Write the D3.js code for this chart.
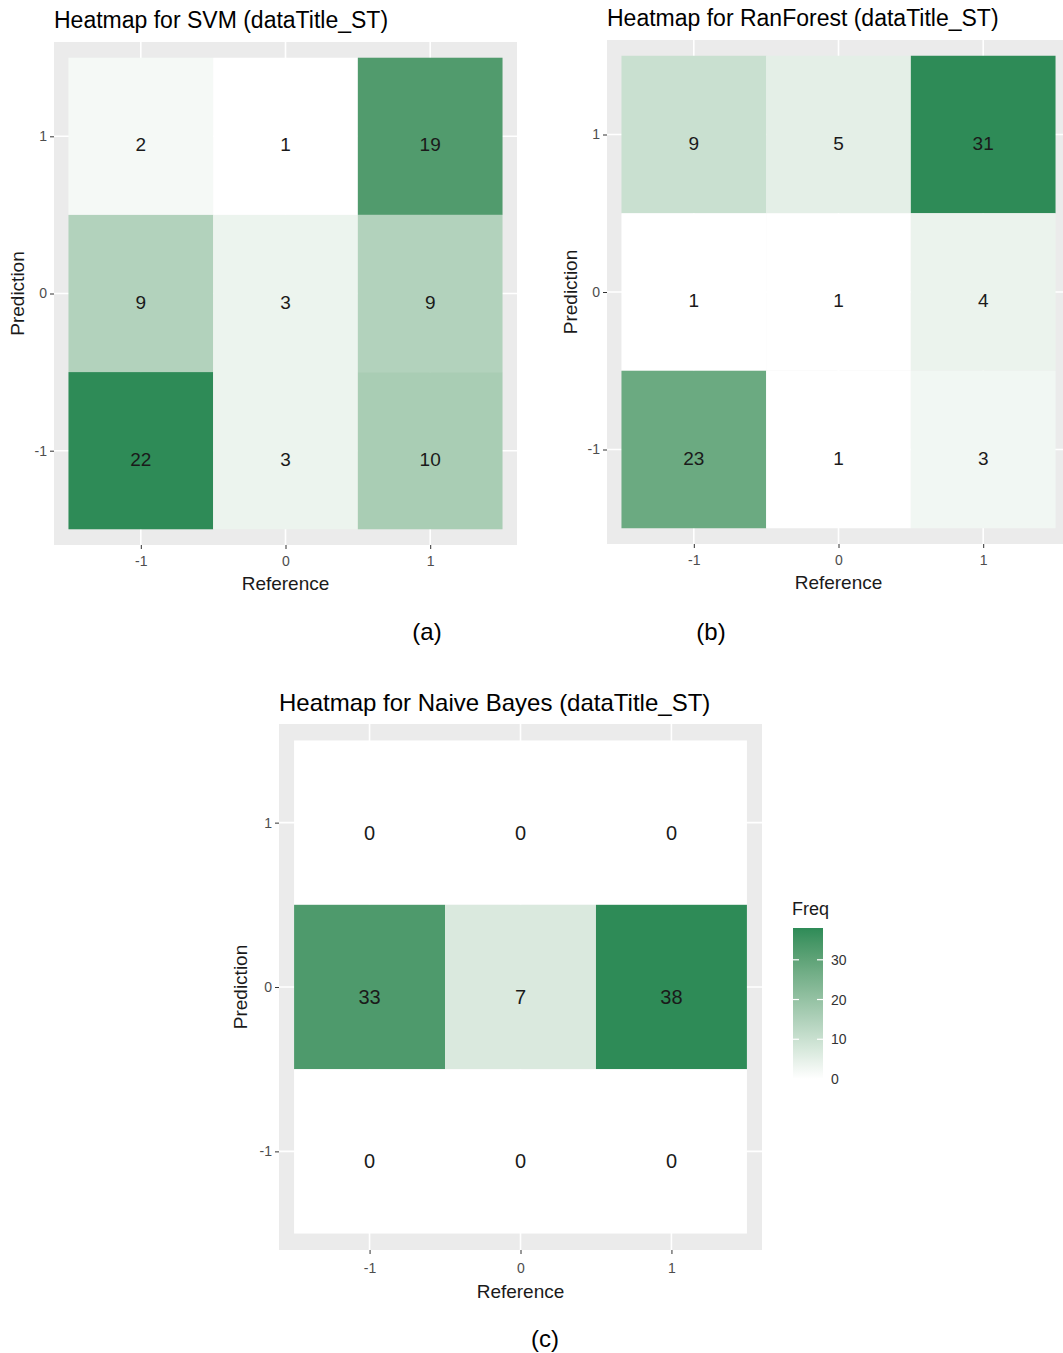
<!DOCTYPE html>
<html>
<head>
<meta charset="utf-8">
<script src="https://cdn.jsdelivr.net/npm/d3@7"></script>
<style>
  body { margin: 0; background: #fff; }
  svg { display: block; font-family: "Liberation Sans", Arial, sans-serif; }
</style>
</head>
<body>
<svg id="chart" width="1063" height="1353"></svg>
<script>
// Confusion-matrix counts: rows follow predictionLevels (1, 0, -1), columns follow referenceLevels.
const referenceLevels = [-1, 0, 1];
const predictionLevels = [1, 0, -1];
const svmFreq = [
  [2, 1, 19],
  [9, 3, 9],
  [22, 3, 10]
];
const ranForestFreq = [
  [9, 5, 31],
  [1, 1, 4],
  [23, 1, 3]
];
const naiveBayesFreq = [
  [0, 0, 0],
  [33, 7, 38],
  [0, 0, 0]
];
const panelTitles = [
  "Heatmap for SVM (dataTitle_ST)",
  "Heatmap for RanForest (dataTitle_ST)",
  "Heatmap for Naive Bayes (dataTitle_ST)"
];
const panelLetters = ["(a)", "(b)", "(c)"];
const legendTicks = [0, 10, 20, 30];

const LOW = "#ffffff", HIGH = "#2e8b57";
const svg = d3.select("#chart");

function flatten(freq) {
  const cells = [];
  predictionLevels.forEach((p, i) => {
    referenceLevels.forEach((r, j) => cells.push({ ref: r, pred: p, n: freq[i][j] }));
  });
  return cells;
}

function drawPanel(freq, title, box, opts) {
  const cells = flatten(freq);
  const ext = d3.extent(cells, d => d.n);
  const color = d3.scaleLinear().domain(ext).range([LOW, HIGH]).interpolate(d3.interpolateLab);
  const x = d3.scaleLinear().domain([-1.6, 1.6]).range([box.x0, box.x1]);
  const y = d3.scaleLinear().domain([-1.6, 1.6]).range([box.y1, box.y0]);
  const g = svg.append("g");

  // panel background and grid
  g.append("rect").attr("x", box.x0).attr("y", box.y0)
    .attr("width", box.x1 - box.x0).attr("height", box.y1 - box.y0).attr("fill", "#ebebeb");
  g.selectAll(".gx").data(referenceLevels).join("line")
    .attr("x1", d => x(d)).attr("x2", d => x(d)).attr("y1", box.y0).attr("y2", box.y1)
    .attr("stroke", "#fff").attr("stroke-width", 1.6);
  g.selectAll(".gy").data(predictionLevels).join("line")
    .attr("y1", d => y(d)).attr("y2", d => y(d)).attr("x1", box.x0).attr("x2", box.x1)
    .attr("stroke", "#fff").attr("stroke-width", 1.6);

  // tiles and their counts
  g.selectAll(".tile").data(cells).join("rect")
    .attr("x", d => x(d.ref - 0.5)).attr("y", d => y(d.pred + 0.5))
    .attr("width", d => x(d.ref + 0.5) - x(d.ref - 0.5))
    .attr("height", d => y(d.pred - 0.5) - y(d.pred + 0.5))
    .attr("fill", d => color(d.n));
  g.selectAll(".lbl").data(cells).join("text")
    .attr("x", d => x(d.ref)).attr("y", d => y(d.pred) + opts.cellDy)
    .attr("text-anchor", "middle").attr("font-size", opts.cellFont).attr("fill", "#1a1a1a")
    .text(d => d.n);

  // axes
  const fmt = d => String(d);
  const xa = g.append("g").attr("transform", `translate(0,${box.y1})`)
    .call(d3.axisBottom(x).tickValues(referenceLevels).tickSize(4).tickPadding(opts.xPad).tickFormat(fmt));
  const ya = g.append("g").attr("transform", `translate(${box.x0},0)`)
    .call(d3.axisLeft(y).tickValues(predictionLevels).tickSize(4).tickPadding(3).tickFormat(fmt));
  [xa, ya].forEach(a => {
    a.select(".domain").remove();
    a.selectAll(".tick line").attr("stroke", "#333");
    a.selectAll(".tick text").attr("fill", "#4d4d4d").attr("font-size", opts.tickFont)
      .attr("font-family", "'Liberation Sans', Arial, sans-serif");
  });

  g.append("text").attr("x", (box.x0 + box.x1) / 2).attr("y", box.y1 + opts.xTitleDy)
    .attr("text-anchor", "middle").attr("font-size", opts.axisFont).attr("fill", "#1a1a1a")
    .text("Reference");
  g.append("text")
    .attr("transform", `translate(${opts.yTitleX},${(box.y0 + box.y1) / 2}) rotate(-90)`)
    .attr("text-anchor", "middle").attr("font-size", opts.axisFont).attr("fill", "#1a1a1a")
    .text("Prediction");
  g.append("text").attr("x", box.x0).attr("y", box.y0 - opts.titleGap)
    .attr("font-size", opts.titleFont).attr("fill", "#000").text(title);
  return { color, ext };
}

const small = { cellFont: 19, cellDy: 15, tickFont: 14, xPad: 7, axisFont: 19, titleFont: 23, xTitleDy: 45, titleGap: 14 };
drawPanel(svmFreq, panelTitles[0], { x0: 54, x1: 517, y0: 42, y1: 545 }, Object.assign({ yTitleX: 24 }, small));
drawPanel(ranForestFreq, panelTitles[1], { x0: 607, x1: 1070, y0: 40, y1: 544 }, Object.assign({ yTitleX: 577 }, small));
const nb = drawPanel(naiveBayesFreq, panelTitles[2], { x0: 279, x1: 762, y0: 724, y1: 1250 },
  { cellFont: 20, cellDy: 17, tickFont: 14, xPad: 9, axisFont: 19, titleFont: 24, xTitleDy: 48, titleGap: 13, yTitleX: 247 });

// sub-figure letters
const letterPos = [[427, 640], [711, 640], [545, 1347]];
svg.selectAll(".letter").data(panelLetters).join("text")
  .attr("x", (d, i) => letterPos[i][0]).attr("y", (d, i) => letterPos[i][1])
  .attr("text-anchor", "middle").attr("font-size", 24).attr("fill", "#000").text(d => d);

// colour bar legend for the Naive Bayes panel
const lg = svg.append("g");
const barX = 793, barW = 30, barTop = 928, barBot = 1079;
const ly = d3.scaleLinear().domain(nb.ext).range([barBot, barTop]);
const grad = svg.append("defs").append("linearGradient").attr("id", "freqGrad")
  .attr("x1", 0).attr("y1", 1).attr("x2", 0).attr("y2", 0);
d3.range(0, 1.0001, 0.1).forEach(t => {
  grad.append("stop").attr("offset", t).attr("stop-color", nb.color(nb.ext[0] + t * (nb.ext[1] - nb.ext[0])));
});
lg.append("rect").attr("x", barX).attr("y", barTop).attr("width", barW).attr("height", barBot - barTop)
  .attr("fill", "url(#freqGrad)");
legendTicks.forEach(v => {
  lg.append("line").attr("x1", barX).attr("x2", barX + 6).attr("y1", ly(v)).attr("y2", ly(v))
    .attr("stroke", "#fff").attr("stroke-width", 1.2);
  lg.append("line").attr("x1", barX + barW - 6).attr("x2", barX + barW).attr("y1", ly(v)).attr("y2", ly(v))
    .attr("stroke", "#fff").attr("stroke-width", 1.2);
});
lg.selectAll(".lt").data(legendTicks).join("text")
  .attr("x", barX + barW + 8).attr("y", d => ly(d) + 5)
  .attr("font-size", 14).attr("fill", "#333").text(d => d);
lg.append("text").attr("x", barX - 1).attr("y", 915).attr("font-size", 18).attr("fill", "#1a1a1a").text("Freq");
</script>
</body>
</html>
